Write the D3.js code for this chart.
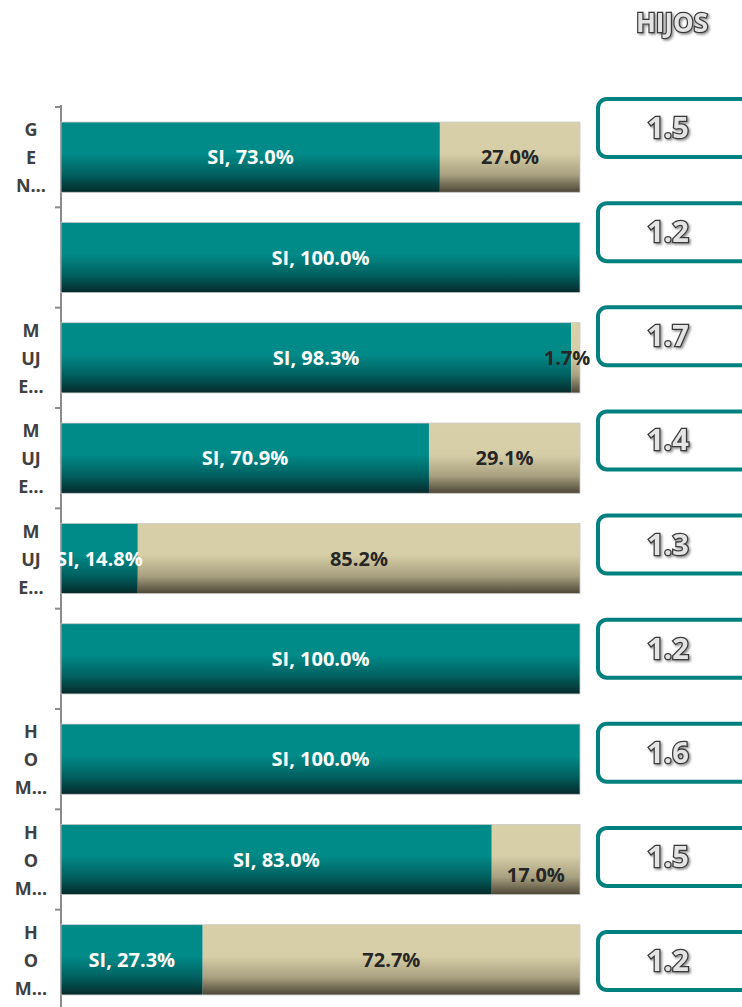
<!DOCTYPE html>
<html>
<head>
  <meta charset="utf-8">
  <title>HIJOS</title>
  <script src="https://d3js.org/d3.v7.min.js"></script>
  <style>
    body { margin: 0; background: #fff; }
    text { font-family: "Open Sans", sans-serif; }
  </style>
</head>
<body>
<script>
// datos
var categories = ["r1", "r2", "r3", "r4", "r5", "r6", "r7", "r8", "r9"];
var categoryLines = [["G", "E", "N…"], [], ["M", "UJ", "E…"], ["M", "UJ", "E…"], ["M", "UJ", "E…"], [], ["H", "O", "M…"], ["H", "O", "M…"], ["H", "O", "M…"]];
var si = [73.0, 100.0, 98.3, 70.9, 14.8, 100.0, 100.0, 83.0, 27.3];
var no = [27.0, 0, 1.7, 29.1, 85.2, 0, 0, 17.0, 72.7];
var hijos = ["1.5", "1.2", "1.7", "1.4", "1.3", "1.2", "1.6", "1.5", "1.2"];

var width = 742, height = 1007;
var svg = d3.select("body").append("svg").attr("width", width).attr("height", height);

var defs = svg.append("defs");
function grad(id, stops) {
  var g = defs.append("linearGradient").attr("id", id).attr("x1", 0).attr("y1", 0).attr("x2", 0).attr("y2", 1);
  stops.forEach(function(s) { g.append("stop").attr("offset", s[0]).attr("stop-color", s[1]); });
}
grad("teal", [[0, "#008a88"], [0.45, "#008a88"], [0.75, "#00605f"], [1, "#062a2a"]]);
grad("tan", [[0, "#d8d0a8"], [0.45, "#d6cea6"], [0.75, "#a8a080"], [1, "#4c4636"]]);

var f = defs.append("filter").attr("id", "shadow").attr("x", "-20%").attr("y", "-20%").attr("width", "140%").attr("height", "140%");
f.append("feDropShadow").attr("dx", 1.5).attr("dy", 1.5).attr("stdDeviation", 1).attr("flood-color", "#000").attr("flood-opacity", 0.45);

// escalas
var x = d3.scaleLinear().domain([0, 100]).range([61, 580]);
var y = d3.scaleBand().domain(categories).range([107, 1010]).paddingInner(0.3).paddingOuter(0.15);
var yBox = d3.scalePoint().domain(categories).range([127, 960]);

// eje
var axis = svg.append("g").attr("transform", "translate(61,0)")
  .call(d3.axisLeft(y).tickSize(0).tickFormat(""));
axis.select(".domain").attr("stroke", "#8a8a8a").attr("stroke-width", 2).attr("d", "M0,105V1007");
var step = y.step();
axis.selectAll(".sep").data(categories).enter().append("line")
  .attr("x1", -6).attr("x2", 0)
  .attr("y1", function(d) { return y(d) - y.paddingInner() * step / 2; })
  .attr("y2", function(d) { return y(d) - y.paddingInner() * step / 2; })
  .attr("stroke", "#8a8a8a").attr("stroke-width", 2);

// etiquetas de categoría
var lab = svg.append("g");
categories.forEach(function(c, i) {
  var lines = categoryLines[i];
  var cy = y(c) + y.bandwidth() / 2;
  lines.forEach(function(t, j) {
    lab.append("text")
      .attr("x", 31).attr("y", cy + (j - 1) * 28 + 7)
      .attr("text-anchor", "middle")
      .attr("font-size", 18).attr("font-weight", "bold").attr("fill", "#404040")
      .text(t);
  });
});

// barras
var rows = svg.append("g").selectAll("g").data(categories).enter().append("g");
rows.append("rect")
  .attr("x", x(0))
  .attr("y", function(d) { return y(d); })
  .attr("width", function(d, i) { return x(si[i]) - x(0); })
  .attr("height", y.bandwidth())
  .attr("fill", "url(#teal)");
rows.filter(function(d, i) { return no[i] > 0; }).append("rect")
  .attr("x", function(d) { return x(si[categories.indexOf(d)]); })
  .attr("y", function(d) { return y(d); })
  .attr("width", function(d) { var i = categories.indexOf(d); return x(si[i] + no[i]) - x(si[i]); })
  .attr("height", y.bandwidth())
  .attr("fill", "url(#tan)");
rows.append("rect")
  .attr("x", x(0))
  .attr("y", function(d) { return y(d); })
  .attr("width", x(100) - x(0))
  .attr("height", y.bandwidth())
  .attr("fill", "none").attr("stroke", "#c8c8c8").attr("stroke-width", 0.8);

// etiquetas de valores
rows.append("text")
  .attr("x", function(d, i) { return (x(0) + x(si[i])) / 2; })
  .attr("y", function(d) { return y(d) + y.bandwidth() / 2 + 7; })
  .attr("text-anchor", "middle")
  .attr("font-size", 20).attr("font-weight", "bold").attr("fill", "#fff")
  .text(function(d, i) { return "SI, " + si[i].toFixed(1) + "%"; });
rows.filter(function(d, i) { return no[i] > 0; }).append("text")
  .attr("x", function(d) { var i = categories.indexOf(d); return Math.min((x(si[i]) + x(100)) / 2, x(100) - 13); })
  .attr("y", function(d) { var i = categories.indexOf(d); return y(d) + y.bandwidth() / 2 + 7 + (no[i] === 17.0 ? 15 : 0); })
  .attr("text-anchor", "middle")
  .attr("font-size", 20).attr("font-weight", "bold").attr("fill", "#262626")
  .text(function(d) { return no[categories.indexOf(d)].toFixed(1) + "%"; });

// cajas HIJOS
var boxes = svg.append("g").selectAll("g").data(categories).enter().append("g")
  .attr("transform", function(d) { return "translate(0," + yBox(d) + ")"; });
boxes.append("rect")
  .attr("x", 598).attr("y", -28).attr("width", 160).attr("height", 58)
  .attr("rx", 9).attr("fill", "#fff").attr("stroke", "#00817f").attr("stroke-width", 4);
boxes.append("text")
  .attr("x", 668).attr("y", 11)
  .attr("text-anchor", "middle")
  .attr("font-size", 29).attr("font-weight", "bold")
  .attr("fill", "#e4e4e4").attr("stroke", "#3a3a3a").attr("stroke-width", 2.6)
  .attr("paint-order", "stroke").attr("filter", "url(#shadow)")
  .text(function(d, i) { return hijos[i]; });

svg.append("text")
  .attr("x", 672).attr("y", 32)
  .attr("text-anchor", "middle")
  .attr("font-size", 26).attr("font-weight", "bold")
  .attr("fill", "#e4e4e4").attr("stroke", "#3a3a3a").attr("stroke-width", 2.4)
  .attr("paint-order", "stroke").attr("filter", "url(#shadow)")
  .text("HIJOS");
</script>
</body>
</html>
